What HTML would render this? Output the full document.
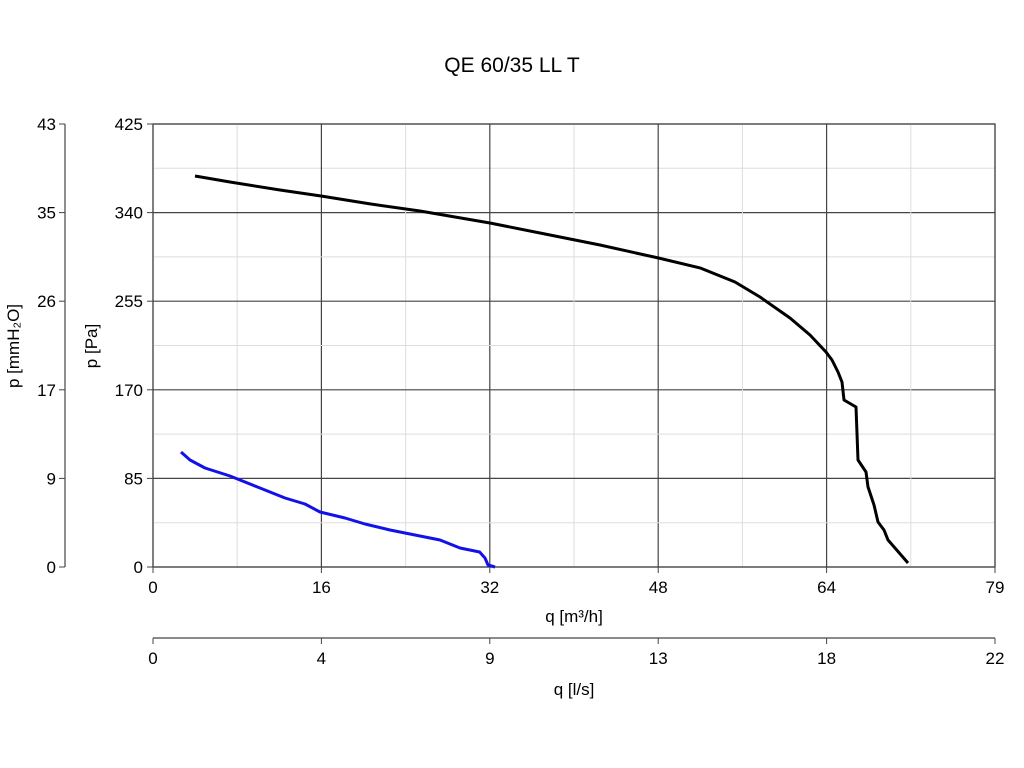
<!DOCTYPE html>
<html><head><meta charset="utf-8"><style>
body{margin:0;background:#fff;}
svg{display:block;font-family:"Liberation Sans",sans-serif;}
</style></head><body>
<svg id="chart" width="1024" height="768">
<text x="512" y="72" text-anchor="middle" font-size="21" fill="#000">QE 60/35 LL T</text>
</svg>
<script>
const xTickLabels=["0","16","32","48","64","79"];
const yTickLabels=["0","85","170","255","340","425"];
const mmTickLabels=["0","9","17","26","35","43"];
const lsTickLabels=["0","4","9","13","18","22"];
const blackX=[3.99,7.32,12.07,15.96,20.62,25.37,32.02,36.77,42.47,47.98,51.97,55.30,57.67,60.52,62.42,63.94,64.51,65.08,65.46,65.65,66.79,66.98,67.74,67.93,68.50,68.88,69.45,69.83,71.73];
const blackY=[375.1,369.4,361.7,355.9,348.3,341.5,330.0,320.4,308.9,296.5,286.9,273.4,259.0,238.9,222.6,206.3,198.6,187.1,177.5,160.2,153.5,102.7,91.1,76.8,59.5,43.2,35.5,25.9,3.8];
const blueX=[2.66,3.52,4.94,7.32,10.17,12.54,14.44,15.87,18.24,20.14,22.52,24.42,27.27,29.17,31.03,31.54,31.83,32.49];
const blueY=[110.3,102.7,95.0,87.3,75.8,66.2,60.4,52.8,47.0,41.3,35.5,31.7,25.9,18.2,14.4,8.6,1.9,0];

const L=153,R=995,T=124,B=567,XMAX=80,YMAX=425;
const sx=v=>L+v/XMAX*(R-L);
const sy=v=>B-v/YMAX*(B-T);
const svg=document.getElementById('chart');
const NS='http://www.w3.org/2000/svg';
function mk(tag,attrs,parent){const e=document.createElementNS(NS,tag);for(const k in attrs)e.setAttribute(k,attrs[k]);(parent||svg).appendChild(e);return e;}
function txt(x,y,s,size,anchor,parent){const t=mk('text',{x:x,y:y,'font-size':size,'text-anchor':anchor||'middle',fill:'#000'},parent);t.textContent=s;return t;}

const grid=mk('g',{});


for(let i=0;i<=10;i++){
  const x=L+i*(R-L)/10, y=T+i*(B-T)/10;
  const major=i%2===0;
  mk('line',{x1:x,y1:T,x2:x,y2:B,stroke:major?'#444':'#ddd','stroke-width':major?1.2:1},grid);
  mk('line',{x1:L,y1:y,x2:R,y2:y,stroke:major?'#444':'#ddd','stroke-width':major?1.2:1},grid);
}
mk('rect',{x:L,y:T,width:R-L,height:B-T,fill:'none',stroke:'#444','stroke-width':1.2},grid);

const xt=mk('g',{});


xTickLabels.forEach((s,i)=>{const x=L+i*(R-L)/5;mk('line',{x1:x,y1:B,x2:x,y2:B+6,stroke:'#444'},xt);txt(x,B+26,s,17,'middle',xt);});
const xtitle=txt((L+R)/2,622,'q [m³/h]',17,'middle');



const yt=mk('g',{});


yTickLabels.forEach((s,i)=>{const y=B-i*(B-T)/5;mk('line',{x1:L-6,y1:y,x2:L,y2:y,stroke:'#444'},yt);txt(L-10,y+6,s,17,'end',yt);});
const ytitle=txt(0,0,'p [Pa]',17,'middle');
ytitle.setAttribute('transform','translate(97,346) rotate(-90)');



const mm=mk('g',{});


mk('line',{x1:65,y1:T,x2:65,y2:B,stroke:'#444','stroke-width':1.2},mm);
mmTickLabels.forEach((s,i)=>{const y=B-i*(B-T)/5;mk('line',{x1:59,y1:y,x2:65,y2:y,stroke:'#444'},mm);txt(56,y+6,s,17,'end',mm);});
const mtitle=txt(0,0,'p [mmH₂O]',17,'middle');
mtitle.setAttribute('transform','translate(19,346) rotate(-90)');



const ls=mk('g',{});


mk('line',{x1:L,y1:638,x2:R,y2:638,stroke:'#444','stroke-width':1.2},ls);
lsTickLabels.forEach((s,i)=>{const x=L+i*(R-L)/5;mk('line',{x1:x,y1:638,x2:x,y2:644,stroke:'#444'},ls);txt(x,664,s,17,'middle',ls);});
const lstitle=txt((L+R)/2,695,'q [l/s]',17,'middle');



function curve(xs,ys,color,name){
  const d=xs.map((v,i)=>(i?'L':'M')+sx(v).toFixed(1)+','+sy(ys[i]).toFixed(1)).join(' ');
  const p=mk('path',{d:d,fill:'none',stroke:color,'stroke-width':3,'stroke-linejoin':'round'});
  
  
}
curve(blackX,blackY,'#000','pressure-curve');
curve(blueX,blueY,'#1212e8','secondary-curve');
</script>
</body></html>
